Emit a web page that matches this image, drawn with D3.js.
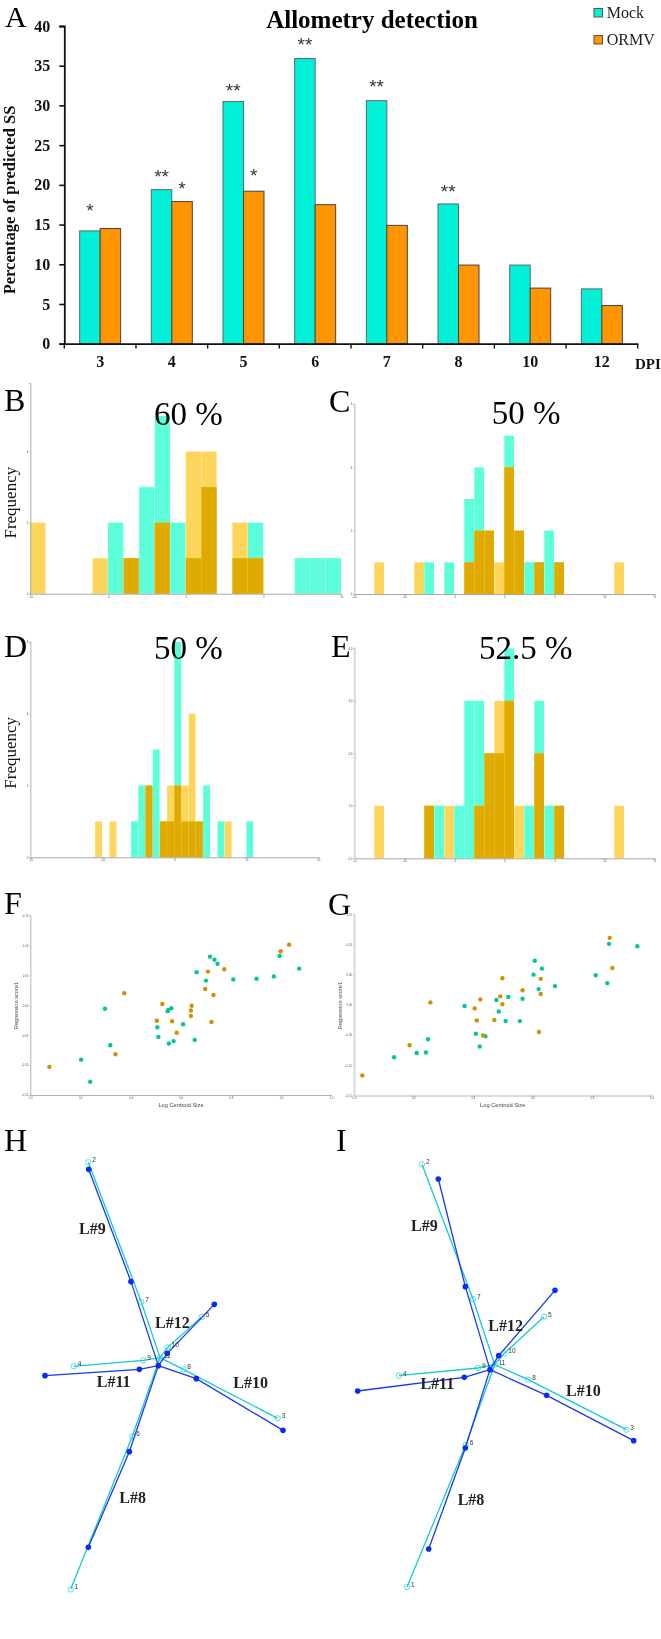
<!DOCTYPE html>
<html><head><meta charset="utf-8">
<script src="https://cdn.jsdelivr.net/npm/d3@7"></script>
<style>html,body{margin:0;padding:0;background:#fff}svg{display:block;filter:blur(0.45px)}</style>
</head><body><svg id="c" width="661" height="1639"></svg>
<script>
// Panel A
const dpi = ["3","4","5","6","7","8","10","12"];
const mockPct = [14.2,19.4,30.5,35.9,30.6,17.6,9.9,6.9];
const ormvPct = [14.5,17.9,19.2,17.5,14.9,9.9,7.0,4.8];
const starDpi = ["3","4","4","5","5","6","7","8"];
const starSeries = ["Mock","Mock","ORMV","Mock","ORMV","Mock","Mock","Mock"];
const starText = ["*","**","*","**","*","**","**","**"];
const starLevel = [17.2,21.4,19.9,32.2,21.6,38,32.8,19.5];
// Histograms: bin lower edge -> count
const bTealBins = [-5,-4,-3,-2,-1,0,1,3,4,7,8,9];
const bTealCounts = [2,1,3,5,2,1,3,1,2,1,1,1];
const bOrangeBins = [-10,-6,-4,-2,0,1,3,4];
const bOrangeCounts = [2,1,1,2,4,4,2,1];
const cTealBins = [-8,-6,-4,-3,-2,0,1,2,3,4,5];
const cTealCounts = [1,1,3,4,2,5,2,1,1,2,1];
const cOrangeBins = [-13,-9,-4,-3,-2,-1,0,1,3,5,11];
const cOrangeCounts = [1,1,1,2,2,1,4,2,1,1,1];
const dTealBins = [-6,-5,-4,-3,-2,-1,0,1,2,3,4,6,10];
const dTealCounts = [1,2,2,3,1,1,6,1,1,1,2,1,1];
const dOrangeBins = [-11,-9,-4,-2,-1,0,1,2,3,7];
const dOrangeCounts = [1,1,2,1,2,2,2,4,1,1];
const eTealBins = [-8,-7,-5,-4,-3,-2,-1,0,2,3,4,5];
const eTealCounts = [1,1,1,3,3,2,2,4,1,3,1,1];
const eOrangeBins = [-13,-8,-6,-3,-2,-1,0,1,3,5,11];
const eOrangeCounts = [1,1,1,1,2,3,3,1,2,1,1];
// Regression scatter
const fTealX = [.239,.203,.319,.298,.507,.511,.553,.572,.656,.610,.548,.551,.563,.664,.701,.717,.735,.747,.810,.903,.972,.995,1.073];
const fTealY = [-.128,-.091,-.067,-.006,-.037,-.053,-.064,-.060,-.058,-.032,-.010,-.008,-.005,.055,.041,.081,.076,.069,.043,.044,.048,.082,.061];
const fOrangeX = [.076,.340,.375,.527,.505,.566,.584,.641,.641,.644,.723,.731,.698,.709,.774,.999,1.033];
const fOrangeY = [-.103,-.082,.020,.002,-.026,-.027,-.046,-.018,-.009,-.001,-.028,.017,.027,.056,.060,.090,.101];
const gTealX = [.135,.211,.242,.249,.372,.410,.423,.442,.487,.479,.510,.558,.519,.567,.621,.604,.608,.632,.676,.813,.852,.858,.953];
const gTealY = [-.087,-.080,-.079,-.057,-.002,-.048,-.069,-.052,-.011,.008,-.027,-.027,.013,.010,.026,.050,.073,.060,.031,.049,.036,.101,.097];
const gOrangeX = [.028,.187,.257,.406,.413,.425,.434,.472,.492,.499,.499,.567,.628,.628,.622,.860,.869];
const gOrangeY = [-.117,-.067,.004,-.006,-.026,.009,-.051,-.025,.014,.001,.044,.024,.043,.018,-.045,.111,.061];
// Landmark shapes (landmarks 1..11)
const hCyanX = [-.263,-.210,.358,-.254,.130,-.078,-.051,.075,-.045,.028,.005];
const hCyanY = [-.678,.603,-.165,-.009,.139,-.219,.184,-.018,.009,.048,.017];
const hBlueX = [-.210,-.209,.374,-.340,.168,-.087,-.082,.114,-.057,.027,0];
const hBlueY = [-.552,.582,-.201,-.037,.177,-.265,.245,-.046,-.018,.030,-.007];
const iCyanX = [-.249,-.204,.409,-.273,.162,-.073,-.051,.115,-.036,.043,.014];
const iCyanY = [-.661,.607,-.189,-.027,.150,-.235,.203,-.039,-.004,.040,.006];
const iBlueX = [-.184,-.155,.431,-.397,.195,-.074,-.074,.170,-.077,.026,0];
const iBlueY = [-.547,.563,-.222,-.073,.229,-.244,.240,-.086,-.032,.033,-.009];
const limbs = [[11,7,2],[11,6,1],[11,8,3],[11,9,4],[11,10,5]];
const limbNames = ["L#9","L#12","L#11","L#10","L#8"];
const hNameX = [-.198,.042,-.134,.277,-.077];
const hNameY = [.405,.122,-.055,-.058,-.402];
const iNameX = [-.197,.047,-.158,.280,-.057];
const iNameY = [.425,.123,-.049,-.072,-.399];

const SERIF = "'Liberation Serif',serif", SANS = "'Liberation Sans',sans-serif";
const svg = d3.select("#c");
function txt(x,y,s,size,o={}){
  const t = svg.append("text").attr("x",x).attr("y",y).text(s)
    .attr("font-family",o.family||SERIF).attr("font-size",size)
    .attr("font-weight",o.weight||"normal").attr("fill",o.fill||"#000")
    .attr("text-anchor",o.anchor||"start");
  if(o.rot) t.attr("transform",`rotate(-90 ${x} ${y})`);
  return t;
}

// ---------- Panel A ----------
(function(){
  const x = d3.scaleBand().domain(dpi).range([64.3,637.7]);
  const inner = d3.scaleBand().domain(["Mock","ORMV"]).range([0,x.bandwidth()]).paddingOuter(.748).paddingInner(0);
  const y = d3.scaleLinear().domain([0,40]).range([343.7,26]);
  const colors = {Mock:"#00F0D8",ORMV:"#FF9500"};
  const g = svg.append("g");
  [["Mock",mockPct],["ORMV",ormvPct]].forEach(([name,vals])=>{
    g.selectAll(null).data(vals).join("rect")
      .attr("x",(d,i)=>x(dpi[i])+inner(name)).attr("width",inner.bandwidth())
      .attr("y",d=>y(d)).attr("height",d=>y(0)-y(d))
      .attr("fill",colors[name]).attr("stroke",name==="Mock"?"#5a6a6a":"#444").attr("stroke-width",1);
  });
  const ya = svg.append("g").attr("transform","translate(64.3,0)")
    .call(d3.axisLeft(y).tickValues(d3.range(0,41,5)).tickSize(5).tickPadding(9));
  const xa = svg.append("g").attr("transform","translate(0,343.7)")
    .call(d3.axisBottom(x).tickSize(0).tickPadding(12));
  [ya,xa].forEach(a=>{
    a.selectAll("text").attr("font-family",SERIF).attr("font-size",16).attr("font-weight","bold").attr("fill","#111");
    a.selectAll("line").attr("stroke","#111").attr("stroke-width",1.6);
    a.select(".domain").attr("stroke","#111").attr("stroke-width",1.8);
  });
  svg.append("g").selectAll("line").data(dpi.concat(["end"])).join("line")
    .attr("x1",d=>d==="end"?x.range()[1]:x(d)).attr("x2",d=>d==="end"?x.range()[1]:x(d))
    .attr("y1",343.7).attr("y2",348.5).attr("stroke","#111").attr("stroke-width",1.4);
  svg.append("g").selectAll("text").data(starText).join("text").text(d=>d)
    .attr("x",(d,i)=>x(starDpi[i])+inner(starSeries[i])+inner.bandwidth()/2)
    .attr("y",(d,i)=>y(starLevel[i])+9.5)
    .attr("text-anchor","middle").attr("font-family",SANS).attr("font-size",19).attr("fill","#333");
  txt(372,28,"Allometry detection",25,{weight:"bold",anchor:"middle"});
  txt(15,200,"Percentage of predicted SS",16.5,{weight:"bold",anchor:"middle",rot:true,fill:"#111"});
  txt(635,368.7,"DPI",15,{weight:"bold",fill:"#111"});
  [["Mock",8.5,18.3],["ORMV",35.5,45]].forEach(([n,ry,by])=>{
    svg.append("rect").attr("x",594).attr("y",ry).attr("width",8.5).attr("height",8.5)
      .attr("fill",colors[n]).attr("stroke","#555").attr("stroke-width",1);
    txt(606.7,by,n,16,{fill:"#222"});
  });
})();

// ---------- Histograms ----------
function hist(o){
  const x = d3.scaleLinear().domain(o.xd).range([o.l,o.r]);
  const y = d3.scaleLinear().domain(o.yd).range([o.b,o.t]);
  const w = x(1)-x(0);
  const tMap = new Map(o.tb.map((b,i)=>[b,o.tc[i]]));
  const oMap = new Map(o.ob.map((b,i)=>[b,o.oc[i]]));
  const both = o.ob.filter(b=>tMap.has(b));
  const bars = (bins,val,fill)=>svg.append("g").selectAll("rect").data(bins).join("rect")
    .attr("x",d=>x(d)).attr("width",w-0.3).attr("y",d=>y(val(d))).attr("height",d=>y(0)-y(val(d))).attr("fill",fill);
  bars(o.tb,d=>tMap.get(d),"#5CFFDA");
  bars(o.ob,d=>oMap.get(d),"#FFD65C");
  bars(both,d=>Math.min(tMap.get(d),oMap.get(d)),"#E0AA00");
  const xa = svg.append("g").attr("transform",`translate(0,${o.b})`)
    .call(d3.axisBottom(x).tickValues(o.xt).tickSize(1).tickPadding(1).tickFormat(d3.format("d")));
  const ya = svg.append("g").attr("transform",`translate(${o.l},0)`)
    .call(d3.axisLeft(y).tickValues(o.yt).tickSize(1).tickPadding(1).tickFormat(o.yf||d3.format("d")));
  [xa,ya].forEach(a=>{
    a.selectAll("text").attr("font-size",2.8).attr("font-family",SANS).attr("fill","#555");
    a.selectAll("line").attr("stroke","#888").attr("stroke-width",.5);
  });
  xa.select(".domain").attr("stroke","#a8a8a8").attr("stroke-width",1);
  ya.select(".domain").attr("stroke",o.ac||"#a8a8a8").attr("stroke-width",o.aw||1);
}
hist({l:30.3,r:341.3,t:383,b:593.7,xd:[-10,10],yd:[0,5.93],xt:[-10,-5,0,5,10],yt:[0,2,4],tb:bTealBins,tc:bTealCounts,ob:bOrangeBins,oc:bOrangeCounts});
hist({l:354.3,r:654.3,t:404,b:594,xd:[-15,15],yd:[0,6],xt:[-15,-10,-5,0,5,10,15],yt:[0,2,4,6],tb:cTealBins,tc:cTealCounts,ob:cOrangeBins,oc:cOrangeCounts,ac:"#ccc",aw:1.4});
hist({l:30.3,r:318.3,t:642,b:857.3,xd:[-20,20],yd:[0,6],xt:[-20,-10,0,10,20],yt:[0,2,4,6],tb:dTealBins,tc:dTealCounts,ob:dOrangeBins,oc:dOrangeCounts,ac:"#ccc",aw:1.4});
hist({l:354.3,r:654.3,t:648.3,b:858.3,xd:[-15,15],yd:[0,4],xt:[-15,-10,-5,0,5,10,15],yt:[0,1,2,3,4],yf:d3.format(".1f"),tb:eTealBins,tc:eTealCounts,ob:eOrangeBins,oc:eOrangeCounts,ac:"#ddd",aw:2.4});

// ---------- Scatter ----------
function scatter(o){
  const x = d3.scaleLinear().domain(o.xd).range([o.l,o.r]);
  const y = d3.scaleLinear().domain([-.15,.15]).range([o.b,o.t]);
  const xa = svg.append("g").attr("transform",`translate(0,${o.b})`)
    .call(d3.axisBottom(x).ticks(o.nt).tickSize(1).tickPadding(1).tickFormat(d3.format(".1f")));
  const ya = svg.append("g").attr("transform",`translate(${o.l},0)`)
    .call(d3.axisLeft(y).tickValues(d3.range(-3,4).map(v=>v*.05)).tickSize(1).tickPadding(1).tickFormat(d3.format(".2f")));
  [xa,ya].forEach(a=>{
    a.selectAll("text").attr("font-size",2.8).attr("font-family",SANS).attr("fill","#555");
    a.selectAll("line").attr("stroke","#888").attr("stroke-width",.5);
    a.select(".domain").attr("stroke",o.ac).attr("stroke-width",o.aw);
  });
  const pts=(X,Y,fill)=>svg.append("g").selectAll("circle").data(X).join("circle")
    .attr("cx",d=>x(d)).attr("cy",(d,i)=>y(Y[i])).attr("r",2.2).attr("fill",fill);
  pts(o.tx,o.ty,"#00C79A"); pts(o.ox,o.oy,"#CC9400");
  txt(o.xl,1107,"Log Centroid Size",5.7,{family:SANS,anchor:"middle",fill:"#444"});
  txt(o.yl,1005.5,"Regression score1",5.7,{family:SANS,anchor:"middle",fill:"#444",rot:true});
}
scatter({l:30.3,r:331,t:915.3,b:1095,xd:[0,1.2],nt:6,ac:"#b4b4b4",aw:1,tx:fTealX,ty:fTealY,ox:fOrangeX,oy:fOrangeY,xl:181,yl:18});
scatter({l:354,r:651.3,t:914.3,b:1095.3,xd:[0,1],nt:5,ac:"#ddd",aw:2.2,tx:gTealX,ty:gTealY,ox:gOrangeX,oy:gOrangeY,xl:502.7,yl:342.3});

// ---------- Landmark shapes ----------
function shape(o){
  const x = d3.scaleLinear().domain([-1,1]).range([o.cx-333.33,o.cx+333.33]);
  const y = d3.scaleLinear().domain([-1,1]).range([o.cy+333.33,o.cy-333.33]);
  const lineOf=(X,Y)=>d3.line().x(k=>x(X[k-1])).y(k=>y(Y[k-1]));
  const gc = svg.append("g"), gb = svg.append("g");
  gc.selectAll("path").data(limbs).join("path").attr("d",lineOf(o.cX,o.cY)).attr("fill","none").attr("stroke","#12CCCC").attr("stroke-width",1.3);
  gc.selectAll("circle").data(o.cX).join("circle").attr("cx",d=>x(d)).attr("cy",(d,i)=>y(o.cY[i])).attr("r",2.7).attr("fill","none").attr("stroke","#2BD6D6").attr("stroke-width",.8);
  gb.selectAll("path").data(limbs).join("path").attr("d",lineOf(o.bX,o.bY)).attr("fill","none").attr("stroke","#1A38F0").attr("stroke-width",1.3);
  gb.selectAll("circle").data(o.bX).join("circle").attr("cx",d=>x(d)).attr("cy",(d,i)=>y(o.bY[i])).attr("r",2.8).attr("fill","#0A2CF0");
  svg.append("g").selectAll("text").data(o.cX).join("text").text((d,i)=>i+1)
    .attr("x",d=>x(d)+4).attr("y",(d,i)=>y(o.cY[i]))
    .attr("font-family",SANS).attr("font-size",6.5).attr("fill","#333");
  svg.append("g").selectAll("text").data(limbNames).join("text").text(d=>d)
    .attr("x",(d,i)=>x(o.nX[i])).attr("y",(d,i)=>y(o.nY[i])+5.5)
    .attr("text-anchor","middle").attr("font-family",SERIF).attr("font-size",16).attr("font-weight","bold").attr("fill","#222");
}
shape({cx:158.33,cy:1363.33,cX:hCyanX,cY:hCyanY,bX:hBlueX,bY:hBlueY,nX:hNameX,nY:hNameY});
shape({cx:490,cy:1366.67,cX:iCyanX,cY:iCyanY,bX:iBlueX,bY:iBlueY,nX:iNameX,nY:iNameY});

// ---------- Text overlays ----------
txt(5,27,"A",30);
[["B",4,410.7],["C",329,411.7],["D",4,657],["E",331,657],["F",4,914],["G",328,915],["H",4,1151],["I",336,1151]]
  .forEach(([s,x,y])=>txt(x,y,s,32));
[["60 %",188.3,424.5],["50 %",526,424],["50 %",188.3,658.5],["52.5 %",525.8,658.5]]
  .forEach(([s,x,y])=>txt(x,y,s,33,{anchor:"middle"}));
txt(16,502.7,"Frequency",17,{anchor:"middle",rot:true,fill:"#111"});
txt(16,752.8,"Frequency",17,{anchor:"middle",rot:true,fill:"#111"});
</script></body></html>
